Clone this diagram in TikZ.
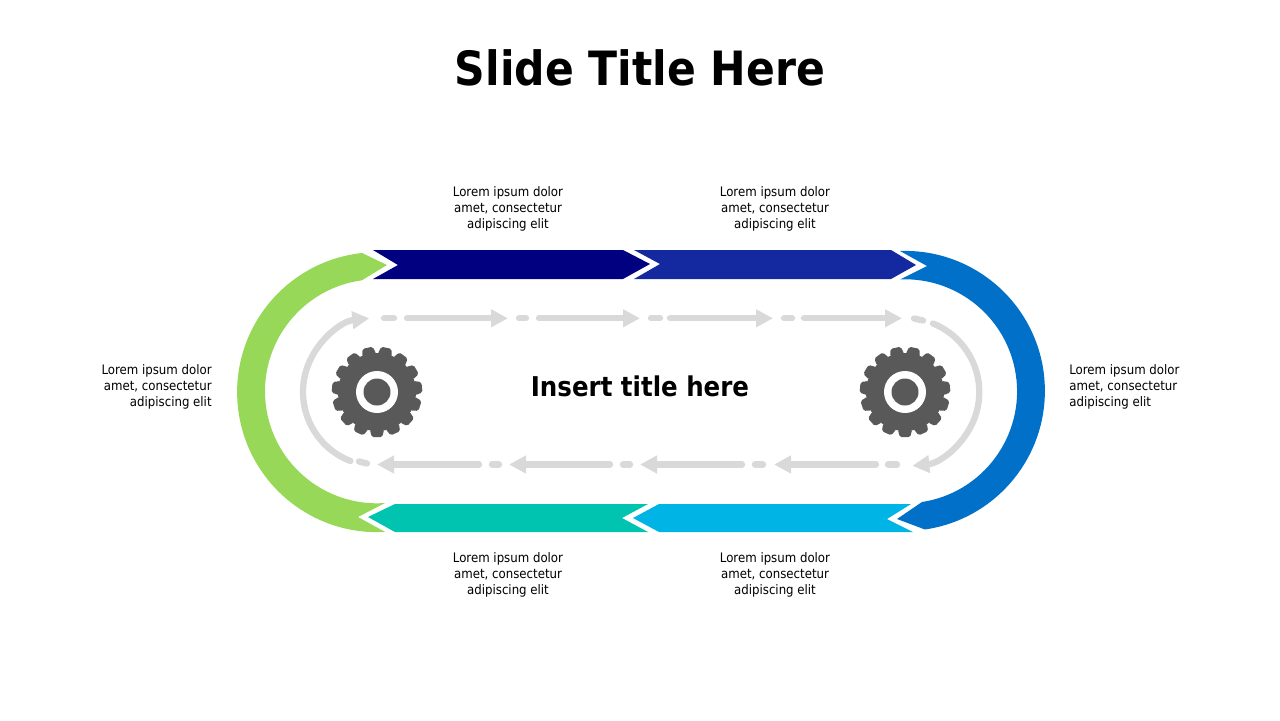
\documentclass[tikz,border=0pt]{standalone}
\usepackage{fontspec}
\setmainfont{DejaVu Sans}
\newfontfamily\headfont{DejaVu Sans Condensed}
\usetikzlibrary{arrows.meta}
\definecolor{leafgreen}{HTML}{98D858}
\definecolor{navyband}{HTML}{000080}
\definecolor{royalband}{HTML}{1428A0}
\definecolor{azureband}{HTML}{0070C8}
\definecolor{skyband}{HTML}{00B4E6}
\definecolor{tealband}{HTML}{00C4B0}
\definecolor{flowgray}{HTML}{D9D9D9}
\definecolor{geargray}{HTML}{595959}
\tikzset{%
	blurb/.style={
		font=\headfont\fontsize{7.45pt}{9.05pt}\selectfont,
		align=center,
		inner sep=0pt
	},
	flow/.style={
		draw=flowgray,
		line width=3.6pt,
		line cap=round
	},
	flow arrow/.style={
		flow,
		-{Triangle[length=0.34cm,width=0.34cm]}
	},
}
\newcommand{\gearat}[2]{%
	\fill[geargray] (#1,#2) circle[radius=39];
	\foreach \t in {0,...,14} {
		\pgfmathsetmacro{\ang}{90+24*\t}
		\fill[geargray,shift={(#1,#2)},rounded corners=1pt] (\ang-11:38) -- (\ang-6.5:45.5) -- (\ang+6.5:45.5) -- (\ang+11:38) -- cycle;
	}
	\fill[white] (#1,#2) circle[radius=21];
	\fill[geargray] (#1,#2) circle[radius=13.5];
}
\begin{document}
\begin{tikzpicture}[x=0.02cm,y=-0.02cm]
	\useasboundingbox (0,0) rectangle (1280,720);
	\node[font=\headfont\bfseries\fontsize{26.9pt}{30pt}\selectfont] (title) at (640,67.5) {Slide Title Here};
	\node[font=\headfont\bfseries\fontsize{15.5pt}{18pt}\selectfont] (center) at (640,386) {Insert title here};
	% ribbon
	\fill[leafgreen] (362,253) arc[start angle=263.8,end angle=86.7,radius=140] -- (358,517) -- (385,503) arc[start angle=85.9,end angle=262.2,radius=112] -- (387,265) -- cycle;
	\fill[navyband] (373,250) -- (623,250) -- (650,264) -- (623,279) -- (373,279) -- (398,265) -- cycle;
	\fill[royalband] (634,250) -- (891,250) -- (916,265) -- (891,279) -- (634,279) -- (660,264) -- cycle;
	\fill[azureband] (900,251) arc[start angle=-92,end angle=81.8,radius=140] -- (897,519) -- (922,502) arc[start angle=81.3,end angle=-92.5,radius=112] -- (927,266) -- cycle;
	\fill[skyband] (659,504) -- (911,504) -- (887,519) -- (913,532) -- (659,532) -- (633,518) -- cycle;
	\fill[tealband] (395,504) -- (648,504) -- (622,518) -- (648,532) -- (395,532) -- (368,517) -- cycle;
	\gearat{377}{392}
	\gearat{905}{392}
	% inner loop
	\foreach \a/\b in {407/508,539/640,670/773,804/902}
		\draw[flow arrow] (\a,318.3) -- (\b,318.3);
	\foreach \a/\b in {384/394,519/526,651/660,784/792}
		\draw[flow] (\a,318.3) -- (\b,318.3);
	\draw[flow] (914,318.5) -- (923,320.5);
	\foreach \a/\b in {479/377,610/509,742/640,876/774}
		\draw[flow arrow] (\a,464.5) -- (\b,464.5);
	\foreach \a/\b in {492/499,623/630,755/763,888/897}
		\draw[flow] (\a,464.5) -- (\b,464.5);
	\draw[flow] (359,461.5) -- (367,463.5);
	\draw[flow arrow] (350.5,461) arc[start angle=111,end angle=264,radius=74];
	\draw[flow arrow] (933,323.5) arc[start angle=-68,end angle=84.5,radius=74];
	\node[blurb] (topa) at (508,208.5) {Lorem ipsum dolor\\amet, consectetur\\adipiscing elit};
	\node[blurb] (topb) at (775,208.5) {Lorem ipsum dolor\\amet, consectetur\\adipiscing elit};
	\node[blurb] (bota) at (508,574.5) {Lorem ipsum dolor\\amet, consectetur\\adipiscing elit};
	\node[blurb] (botb) at (775,574.5) {Lorem ipsum dolor\\amet, consectetur\\adipiscing elit};
	\node[blurb,align=right,anchor=east] (lefta) at (212,386.5) {Lorem ipsum dolor\\amet, consectetur\\adipiscing elit};
	\node[blurb,align=left,anchor=west] (righta) at (1069,386.5) {Lorem ipsum dolor\\amet, consectetur\\adipiscing elit};
\end{tikzpicture}
\end{document}
